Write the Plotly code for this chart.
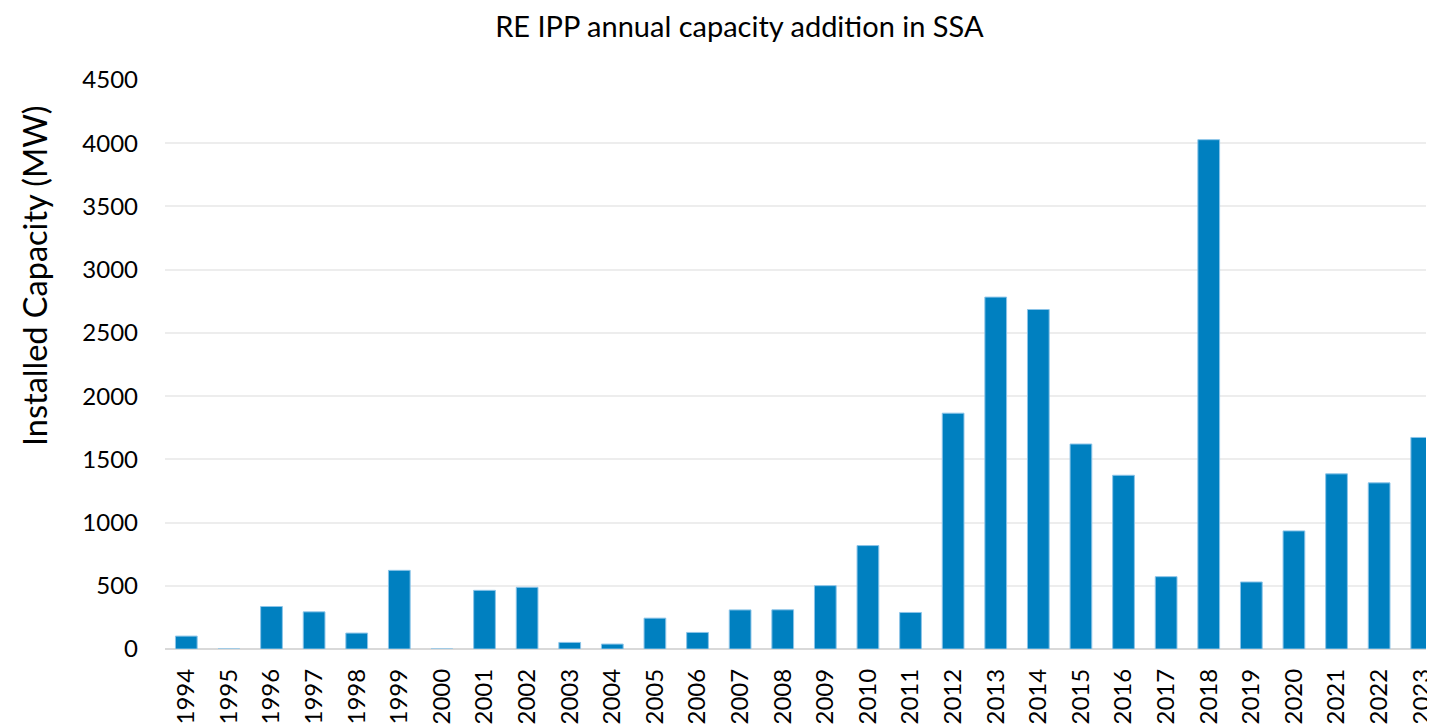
import plotly.graph_objects as go

years = [str(y) for y in range(1994, 2024)]
capacity_mw = [102, 0, 336, 294, 126, 622, 0, 464, 488, 52, 39, 244, 131, 309, 310,
               501, 818, 289, 1865, 2783, 2685, 1621, 1374, 572, 4028, 530, 934,
               1385, 1314, 1673]
y_ticks = [0, 500, 1000, 1500, 2000, 2500, 3000, 3500, 4000, 4500]

FONT = "Lato, 'Open Sans', sans-serif"

fig = go.Figure(go.Bar(
    x=years,
    y=capacity_mw,
    marker=dict(color="#0080C0", line=dict(color="#8CC4E8", width=1)),
))

# page body has an 8px margin, so the figure is sized 8px short on each axis
fig.update_layout(
    width=1427, height=716,
    paper_bgcolor="white", plot_bgcolor="white",
    font=dict(family=FONT, color="black"),
    title=dict(text="RE IPP annual capacity addition in SSA", x=0.5125, xanchor="center",
               y=0.973, yanchor="middle", font=dict(size=29, color="black")),
    margin=dict(l=157, r=0, t=72, b=72),
    bargap=0.49,
    showlegend=False,
    xaxis=dict(
        type="category",
        range=[-0.5, 29.1],
        tickangle=-90,
        tickfont=dict(size=24),
        ticklabelstandoff=14,
        showgrid=False,
        showline=False,
    ),
    yaxis=dict(
        range=[0, 4500],
        tickvals=y_ticks,
        tickfont=dict(size=24),
        ticklabelstandoff=26,
        gridcolor="#EDEDED",
        gridwidth=1.5,
        zeroline=True,
        zerolinecolor="#D9D9D9",
        zerolinewidth=2,
    ),
)

# y-axis title sits above the plot's vertical centre in the original
fig.add_annotation(
    text="Installed Capacity (MW)", textangle=-90,
    xref="paper", yref="paper", x=-0.104, y=0.657,
    xanchor="center", yanchor="middle", showarrow=False,
    font=dict(size=32.5, color="black"),
)

fig.write_html("out.html")
